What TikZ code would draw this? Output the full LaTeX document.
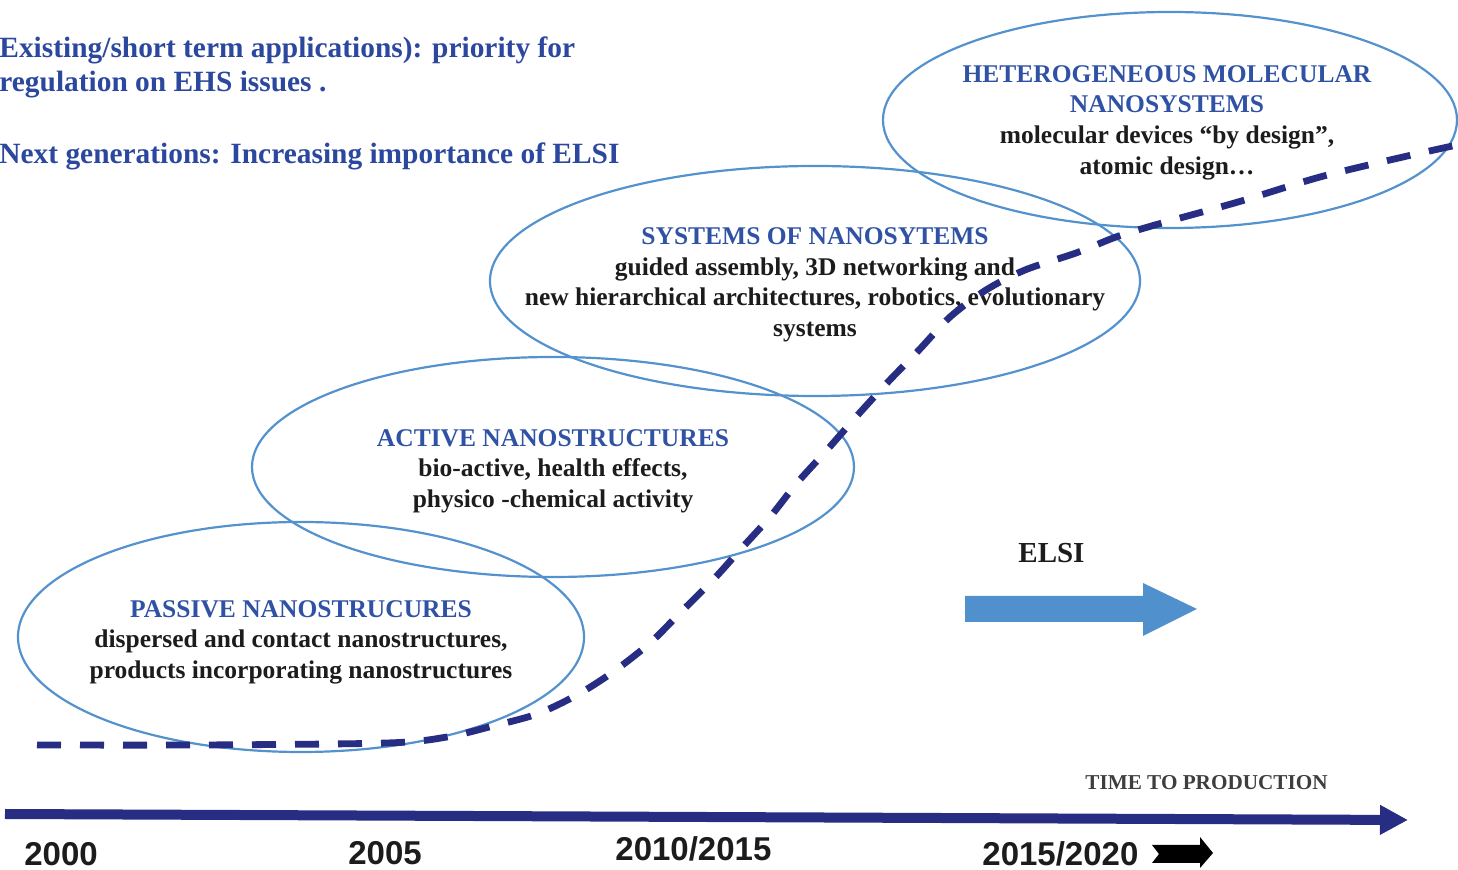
\documentclass[tikz,border=0pt]{standalone}
\usepackage{fontspec}
\setmainfont{Liberation Serif}
\newfontfamily\arialfont{Liberation Sans}
\usetikzlibrary{shapes.geometric,arrows.meta}
\definecolor{ellblue}{RGB}{84,146,206}
\definecolor{headblue}{RGB}{47,82,165}
\definecolor{topblue}{RGB}{44,72,158}
\definecolor{navy}{RGB}{38,45,130}
\definecolor{txtdark}{RGB}{28,28,28}
\definecolor{arrowblue}{RGB}{80,145,205}
\begin{document}
\begin{tikzpicture}[x=0.5pt,y=-0.5pt,
  ell/.style={draw=ellblue, line width=1.1pt, ellipse, inner sep=0pt},
  etext/.style={align=center, font=\fontsize{12.75}{15.3}\selectfont\bfseries, text=txtdark, inner sep=0pt},
  toptext/.style={align=left, font=\fontsize{14.7}{17}\selectfont\bfseries, text=topblue, inner sep=0pt, anchor=base west},
  year/.style={font=\arialfont\bfseries\fontsize{16.5}{18}\selectfont, text=txtdark, inner sep=0pt, anchor=base west},
  trend/.style={draw=navy, line width=3.4pt, dash pattern=on 12pt off 9.5pt},
  axisline/.style={draw=navy, line width=5pt, -{Triangle[length=14pt,width=14pt]}},
]
\useasboundingbox (0,0) rectangle (1458,870);

% ellipses
\node[ell, minimum width=283pt, minimum height=115pt] (e1) at (301,637) {};
\node[ell, minimum width=301pt, minimum height=110pt] (e2) at (553,467) {};
\node[ell, minimum width=325pt, minimum height=115pt] (e3) at (815,281) {};
\node[ell, minimum width=287pt, minimum height=108pt] (e4) at (1170,120) {};

% ellipse texts
\node[etext] (t1) at (301,642) {\textcolor{headblue}{PASSIVE NANOSTRUCURES}\\dispersed and contact nanostructures,\\products incorporating nanostructures};
\node[etext] (t2) at (553,471) {\textcolor{headblue}{ACTIVE NANOSTRUCTURES}\\bio-active, health effects,\\physico -chemical activity};
\node[etext] (t3) at (815,285) {\textcolor{headblue}{SYSTEMS OF NANOSYTEMS}\\guided assembly, 3D networking and\\new hierarchical architectures, robotics, evolutionary\\systems};
\node[etext] (t4) at (1167,122.5) {\textcolor{headblue}{HETEROGENEOUS MOLECULAR}\\\textcolor{headblue}{NANOSYSTEMS}\\molecular devices “by design”,\\atomic design…};

% top-left notes
\node[toptext] (n1) at (-1,92) {Existing/short term applications): priority for\\regulation on EHS issues .};
\node[toptext] (n2) at (-1,164) {Next generations: Increasing importance of ELSI};

% trend curve
\draw[trend] plot[smooth, tension=0.5] coordinates {(37,745) (200,745) (387,743) (447,737) (493,726) (537,714) (577,695) (613,672) (650,643) (680,613) (713,580) (740,550) (770,517) (797,483) (827,450) (856,417) (887,383) (919,350) (950,317) (986,290) (1025,270) (1076,253) (1116,237) (1155,225) (1238,202) (1320,177) (1403,157) (1457,145)};

% ELSI arrow
\node[font=\fontsize{14.5}{16}\selectfont\bfseries, text=txtdark, inner sep=0pt, anchor=base west] (elsi) at (1018,563) {ELSI};
\fill[arrowblue] (965,596) -- (1143,596) -- (1143,583) -- (1197,609) -- (1143,636) -- (1143,622) -- (965,622) -- cycle;

% time axis
\coordinate (ax0) at (5,814);
\coordinate (ax1) at (1408,820);
\draw[axisline] (ax0) -- (ax1);
\node[font=\fontsize{10.6}{12}\selectfont\bfseries, text=txtdark!85, inner sep=0pt, anchor=base west] (ttp) at (1085,790) {TIME TO PRODUCTION};

% years
\node[year] (y1) at (24,866) {2000};
\node[year] (y2) at (348,865) {2005};
\node[year] (y3) at (615,861) {2010/2015};
\node[year] (y4) at (982,866) {2015/2020};
\fill[black] (1152,845) -- (1200,845) -- (1200,837) -- (1213,853) -- (1200,868) -- (1200,863) -- (1152,863) -- (1159,854) -- cycle;
\end{tikzpicture}
\end{document}
